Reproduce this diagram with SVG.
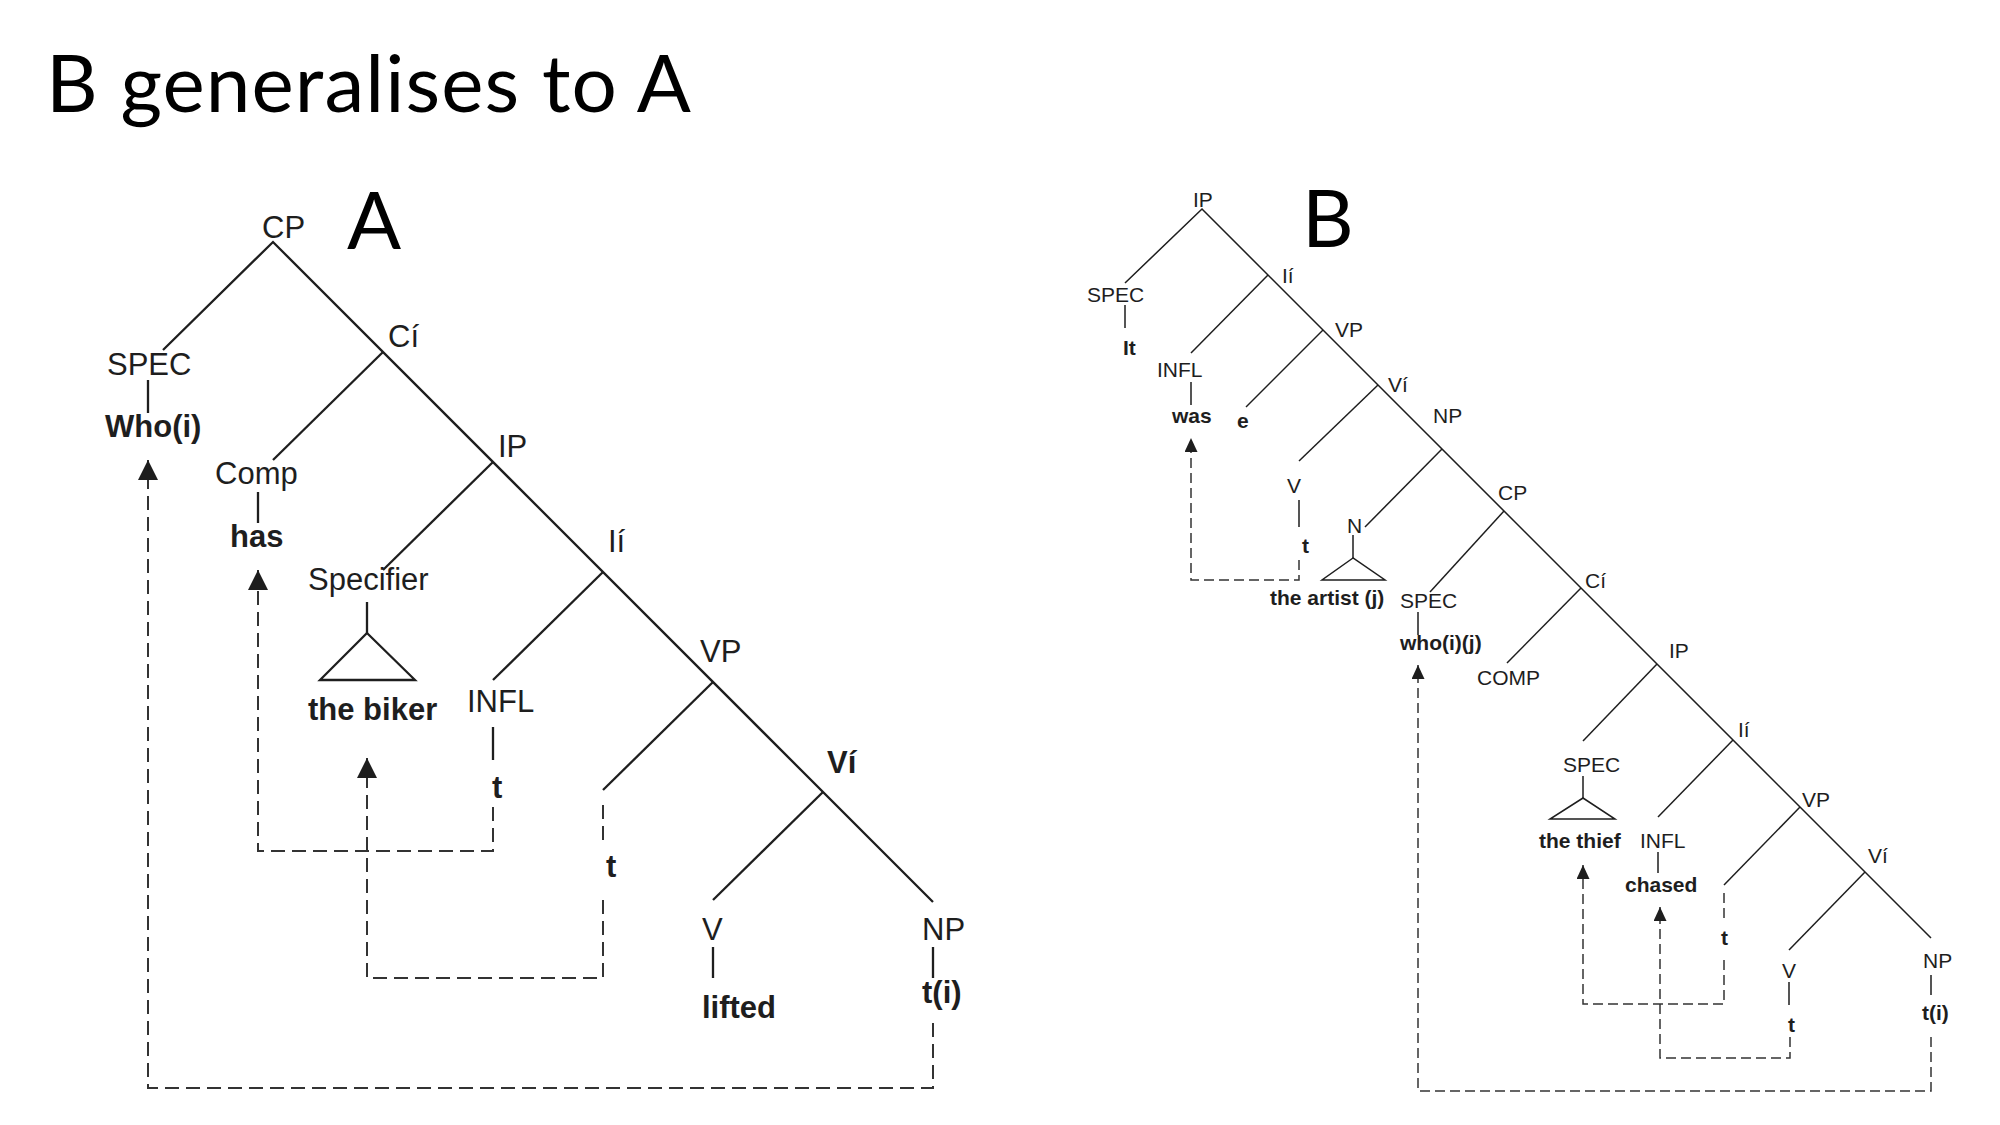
<svg xmlns="http://www.w3.org/2000/svg" width="2000" height="1125" viewBox="0 0 2000 1125">
<defs>
<style>
.title{font-family:Lato,"Open Sans","Liberation Sans",sans-serif;font-size:80px;fill:#000}
.a{font-family:"Liberation Sans",Arial,sans-serif;font-size:31px;fill:#1e1e1e}
.b{font-family:"Liberation Sans",Arial,sans-serif;font-size:21px;fill:#1e1e1e}
.bold{font-weight:bold}
.ea{stroke:#1e1e1e;stroke-width:2.3;fill:none}
.eb{stroke:#1e1e1e;stroke-width:1.5;fill:none}
.da{stroke:#333;stroke-width:2;fill:none;stroke-dasharray:14 7}
.db{stroke:#333;stroke-width:1.5;fill:none;stroke-dasharray:10 5}
</style>
<marker id="arrA" markerUnits="userSpaceOnUse" viewBox="0 0 20 20" markerWidth="20" markerHeight="20" refX="20" refY="10" orient="auto"><path d="M0,0 L20,10 L0,20 z" fill="#1e1e1e"/></marker>
<marker id="arrB" markerUnits="userSpaceOnUse" viewBox="0 0 14 13" markerWidth="14" markerHeight="13" refX="14" refY="6.5" orient="auto"><path d="M0,0 L14,6.5 L0,13 z" fill="#1e1e1e"/></marker>
</defs>
<rect width="2000" height="1125" fill="#fff"/>
<g id="title"><text class="title" x="46" y="112" textLength="645">B generalises to A</text></g>
<g id="labelA"><text class="title" x="347" y="249">A</text></g>
<g id="labelB"><text class="title" x="1302" y="247">B</text></g>

<g id="connectors">
<!-- Tree A -->
<path class="ea" d="M163,350 L273,242 L933,902"/>
<path class="ea" d="M383,352 L273,460"/>
<path class="ea" d="M493,462 L383,570"/>
<path class="ea" d="M603,572 L493,680"/>
<path class="ea" d="M713,682 L603,790"/>
<path class="ea" d="M823,792 L713,900"/>
<path class="ea" d="M148,380 V413 M258,492 V523 M367,602 V633 M493,727 V760 M713,947 V978 M933,947 V978"/>
<path class="da" d="M933,1023 V1088 H148 V460" marker-end="url(#arrA)"/>
<path class="da" d="M493,807 V851 H258 V570" marker-end="url(#arrA)"/>
<path class="da" d="M603,805 V840"/>
<path class="da" d="M603,900 V978 H367 V758" marker-end="url(#arrA)"/>
<!-- Tree B -->
<path class="eb" d="M1125,283 L1202,209 L1931,938"/>
<path class="eb" d="M1268,275 L1191,353"/>
<path class="eb" d="M1323,330 L1246,407"/>
<path class="eb" d="M1378,385 L1299,461"/>
<path class="eb" d="M1442,449 L1365,527"/>
<path class="eb" d="M1504,511 L1430,592"/>
<path class="eb" d="M1581,588 L1507,663"/>
<path class="eb" d="M1657,664 L1583,741"/>
<path class="eb" d="M1733,740 L1658,817"/>
<path class="eb" d="M1800,807 L1724,885"/>
<path class="eb" d="M1865,872 L1789,950"/>
<path class="eb" d="M1125,305 V328 M1191,382 V405 M1299,500 V527 M1353,535 V558 M1418,612 V635 M1583,776 V798 M1658,852 V873 M1789,982 V1005 M1931,975 V995"/>
<path class="db" d="M1299,560 V580 H1191 V438" marker-end="url(#arrB)"/>
<path class="db" d="M1931,1037 V1091 H1418 V665" marker-end="url(#arrB)"/>
<path class="db" d="M1724,893 V918"/>
<path class="db" d="M1724,960 V1004 H1583 V865" marker-end="url(#arrB)"/>
<path class="db" d="M1790,1037 V1058 H1660 V907" marker-end="url(#arrB)"/>
</g>

<!-- Tree A nodes -->
<g id="A-CP"><text class="a" x="262" y="238">CP</text></g>
<g id="A-SPEC"><text class="a" x="107" y="375">SPEC</text></g>
<g id="A-Who"><text class="a bold" x="105" y="437">Who(i)</text></g>
<g id="A-Cbar"><text class="a" x="388" y="347">Cí</text></g>
<g id="A-Comp"><text class="a" x="215" y="484">Comp</text></g>
<g id="A-has"><text class="a bold" x="230" y="547">has</text></g>
<g id="A-IP"><text class="a" x="498" y="457">IP</text></g>
<g id="A-Specifier"><text class="a" x="308" y="590">Specifier</text></g>
<g id="A-biker"><path class="ea" d="M367,633 L320,680 H415 Z"/><text class="a bold" x="308" y="720">the biker</text></g>
<g id="A-Ibar"><text class="a" x="608" y="552">Ií</text></g>
<g id="A-INFL"><text class="a" x="467" y="712">INFL</text></g>
<g id="A-t1"><text class="a bold" x="492" y="798">t</text></g>
<g id="A-VP"><text class="a" x="700" y="662">VP</text></g>
<g id="A-t2"><text class="a bold" x="606" y="877">t</text></g>
<g id="A-Vbar"><text class="a bold" x="827" y="773">Ví</text></g>
<g id="A-V"><text class="a" x="702" y="940">V</text></g>
<g id="A-lifted"><text class="a bold" x="702" y="1018">lifted</text></g>
<g id="A-NP"><text class="a" x="922" y="940">NP</text></g>
<g id="A-ti"><text class="a bold" x="922" y="1003">t(i)</text></g>

<!-- Tree B nodes -->
<g id="B-IP"><text class="b" x="1193" y="207">IP</text></g>
<g id="B-SPEC1"><text class="b" x="1087" y="302">SPEC</text></g>
<g id="B-It"><text class="b bold" x="1123" y="355">It</text></g>
<g id="B-Ibar"><text class="b" x="1282" y="283">Ií</text></g>
<g id="B-INFL1"><text class="b" x="1157" y="377">INFL</text></g>
<g id="B-was"><text class="b bold" x="1172" y="423">was</text></g>
<g id="B-VP1"><text class="b" x="1335" y="337">VP</text></g>
<g id="B-e"><text class="b bold" x="1237" y="428">e</text></g>
<g id="B-Vbar1"><text class="b" x="1388" y="392">Ví</text></g>
<g id="B-V1"><text class="b" x="1287" y="493">V</text></g>
<g id="B-t1"><text class="b bold" x="1302" y="553">t</text></g>
<g id="B-NP1"><text class="b" x="1433" y="423">NP</text></g>
<g id="B-N"><text class="b" x="1347" y="533">N</text></g>
<g id="B-artist"><path class="eb" d="M1353,558 L1322,580 H1385 Z"/><text class="b bold" x="1270" y="605">the artist (j)</text></g>
<g id="B-CP"><text class="b" x="1498" y="500">CP</text></g>
<g id="B-SPEC2"><text class="b" x="1400" y="608">SPEC</text></g>
<g id="B-who"><text class="b bold" x="1400" y="650">who(i)(j)</text></g>
<g id="B-Cbar"><text class="b" x="1585" y="588">Cí</text></g>
<g id="B-COMP"><text class="b" x="1477" y="685">COMP</text></g>
<g id="B-IP2"><text class="b" x="1669" y="658">IP</text></g>
<g id="B-SPEC3"><text class="b" x="1563" y="772">SPEC</text></g>
<g id="B-thief"><path class="eb" d="M1583,798 L1550,819 H1615 Z"/><text class="b bold" x="1539" y="848">the thief</text></g>
<g id="B-Ibar2"><text class="b" x="1738" y="737">Ií</text></g>
<g id="B-INFL2"><text class="b" x="1640" y="848">INFL</text></g>
<g id="B-chased"><text class="b bold" x="1625" y="892">chased</text></g>
<g id="B-VP2"><text class="b" x="1802" y="807">VP</text></g>
<g id="B-t2"><text class="b bold" x="1721" y="945">t</text></g>
<g id="B-Vbar2"><text class="b" x="1868" y="863">Ví</text></g>
<g id="B-V2"><text class="b" x="1782" y="978">V</text></g>
<g id="B-t3"><text class="b bold" x="1788" y="1032">t</text></g>
<g id="B-NP2"><text class="b" x="1923" y="968">NP</text></g>
<g id="B-ti"><text class="b bold" x="1922" y="1020">t(i)</text></g>
</svg>
